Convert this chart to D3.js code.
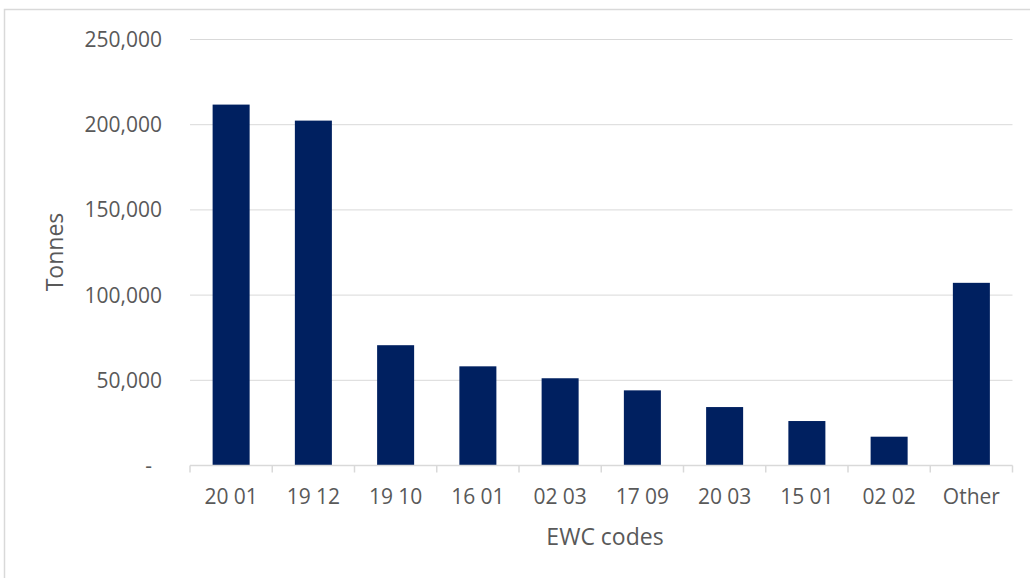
<!DOCTYPE html>
<html>
<head>
<meta charset="utf-8">
<script src="https://cdn.jsdelivr.net/npm/d3@7"></script>
<style>
  html, body { margin: 0; padding: 0; background: #fff; }
  svg { display: block; }
  text { font-family: "Open Sans", "Liberation Sans", sans-serif; fill: #595959; }
</style>
</head>
<body>
<svg id="chart" width="1030" height="578"></svg>
<script>
// EWC waste codes and tonnages
const categories = ["20 01", "19 12", "19 10", "16 01", "02 03", "17 09", "20 03", "15 01", "02 02", "Other"];
const tonnes = [211800, 202400, 70600, 58200, 51200, 44100, 34300, 26100, 16900, 107200];
const yTicks = [0, 50000, 100000, 150000, 200000, 250000];

const svg = d3.select("#chart");
const W = 1030, H = 578;
const plotLeft = 190, plotRight = 1012.5, plotTop = 39.5, plotBottom = 465.5;

// Chart frame (top and left edges)
svg.append("path")
  .attr("d", `M4.5,${H} V9.5 H${W}`)
  .attr("fill", "none")
  .attr("stroke", "#d9d9d9")
  .attr("stroke-width", 1.5);

const x = d3.scaleBand().domain(categories).range([plotLeft, plotRight]).padding(0);
const y = d3.scaleLinear().domain([0, 250000]).range([plotBottom, plotTop]);
const barW = x.bandwidth() * 0.45;

// Horizontal gridlines
svg.append("g")
  .selectAll("line")
  .data(yTicks.filter(d => d > 0))
  .join("line")
  .attr("x1", plotLeft).attr("x2", plotRight)
  .attr("y1", d => y(d)).attr("y2", d => y(d))
  .attr("stroke", "#d9d9d9")
  .attr("stroke-width", 1);

// Y tick labels (zero shown as a dash)
const fmt = d3.format(",");
svg.append("g")
  .selectAll("text")
  .data(yTicks)
  .join("text")
  .attr("x", d => d === 0 ? 152 : 162)
  .attr("y", d => y(d) + 7.5)
  .attr("text-anchor", "end")
  .style("font-size", "21px")
  .text(d => d === 0 ? "-" : fmt(d));

// Bars
svg.append("g")
  .selectAll("rect")
  .data(categories.map((c, i) => ({ c, v: tonnes[i] })))
  .join("rect")
  .attr("x", d => x(d.c) + (x.bandwidth() - barW) / 2)
  .attr("width", barW)
  .attr("y", d => y(d.v))
  .attr("height", d => y(0) - y(d.v))
  .attr("fill", "#002060");

// X axis line with ticks between categories
svg.append("line")
  .attr("x1", plotLeft).attr("x2", plotRight)
  .attr("y1", plotBottom).attr("y2", plotBottom)
  .attr("stroke", "#d9d9d9").attr("stroke-width", 1.5);
const edges = categories.map(c => x(c)).concat([plotRight]);
svg.append("g")
  .selectAll("line")
  .data(edges)
  .join("line")
  .attr("x1", d => d).attr("x2", d => d)
  .attr("y1", plotBottom).attr("y2", plotBottom + 7)
  .attr("stroke", "#d9d9d9").attr("stroke-width", 1.5);

// X tick labels
svg.append("g")
  .selectAll("text")
  .data(categories)
  .join("text")
  .attr("x", d => x(d) + x.bandwidth() / 2)
  .attr("y", 503.5)
  .attr("text-anchor", "middle")
  .style("font-size", "21px")
  .text(d => d);

// Axis titles
svg.append("text")
  .attr("x", 605).attr("y", 545)
  .attr("text-anchor", "middle")
  .style("font-size", "23px")
  .text("EWC codes");

svg.append("text")
  .attr("transform", "translate(63,252) rotate(-90)")
  .attr("text-anchor", "middle")
  .style("font-size", "23px")
  .text("Tonnes");
</script>
</body>
</html>
